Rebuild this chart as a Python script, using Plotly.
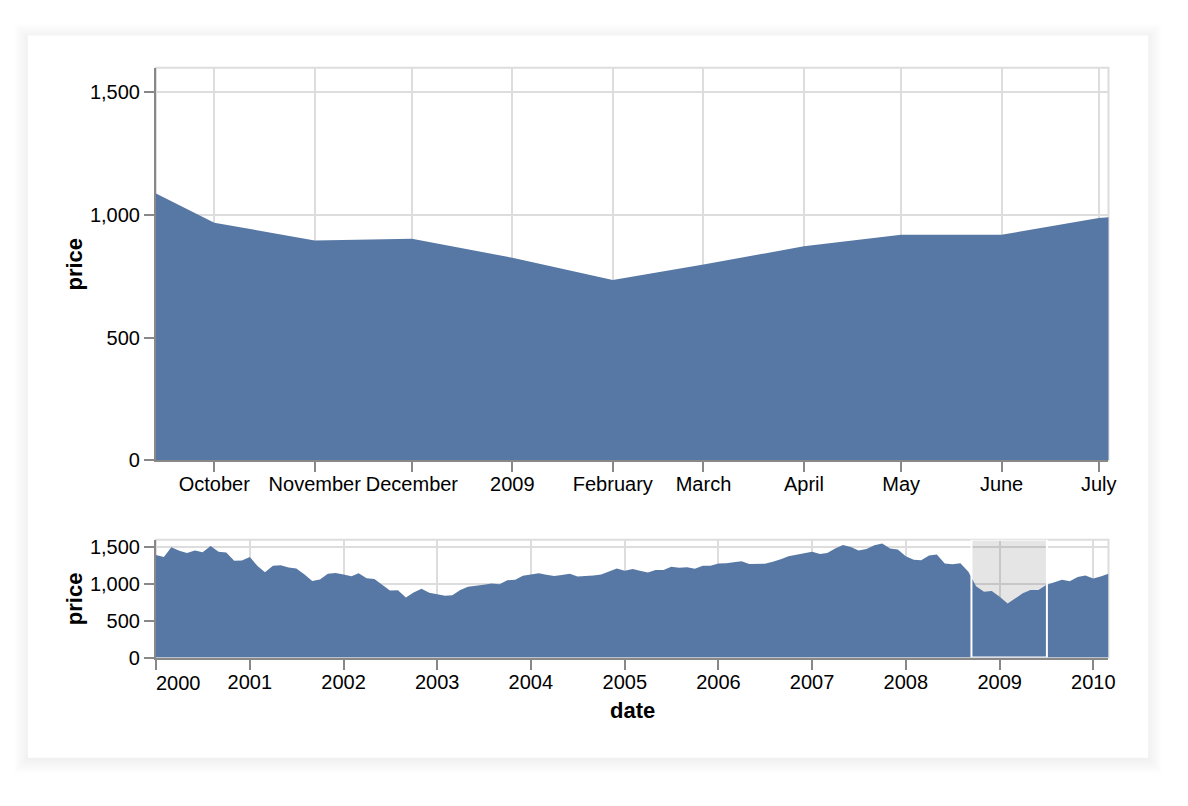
import plotly.graph_objects as go
import pandas as pd

# ---------------- data ----------------
prices = [
    1394.46, 1366.42, 1498.58, 1452.43, 1420.6, 1454.6, 1430.83, 1517.68, 1436.51, 1429.4, 1314.95, 1320.28,
    1366.01, 1239.94, 1160.33, 1249.46, 1255.82, 1224.38, 1211.23, 1133.58, 1040.94, 1059.78, 1139.45, 1148.08,
    1130.2, 1106.73, 1147.39, 1076.92, 1067.14, 989.82, 911.62, 916.07, 815.28, 885.76, 936.31, 879.82,
    855.7, 841.15, 848.18, 916.92, 963.59, 974.5, 990.31, 1008.01, 995.97, 1050.71, 1058.2, 1111.92,
    1131.13, 1144.94, 1126.21, 1107.3, 1120.68, 1140.84, 1101.72, 1104.24, 1114.58, 1130.2, 1173.82, 1211.92,
    1181.27, 1203.6, 1180.59, 1156.85, 1191.5, 1191.33, 1234.18, 1220.33, 1228.81, 1207.01, 1249.48, 1248.29,
    1280.08, 1280.66, 1294.87, 1310.61, 1270.09, 1270.2, 1276.66, 1303.82, 1335.85, 1377.94, 1400.63, 1418.3,
    1438.24, 1406.82, 1420.86, 1482.37, 1530.62, 1503.35, 1455.27, 1473.99, 1526.75, 1549.38, 1481.14, 1468.36,
    1378.55, 1330.63, 1322.7, 1385.59, 1400.38, 1280.0, 1267.38, 1282.83, 1166.36, 968.75, 896.24, 903.25,
    825.88, 735.09, 797.87, 872.81, 919.14, 919.32, 987.48, 1020.62, 1057.08, 1036.19, 1095.63, 1115.1,
    1073.87, 1104.49, 1140.45,
]
dates = pd.date_range("2000-01-01", periods=len(prices), freq="MS")

brush_range = ["2008-09-13", "2009-07-04"]
overview_range = ["2000-01-01", "2010-03-01"]

detail_tick_vals = ["2008-10-01", "2008-11-01", "2008-12-01", "2009-01-01", "2009-02-01",
                    "2009-03-01", "2009-04-01", "2009-05-01", "2009-06-01", "2009-07-01"]
detail_tick_text = ["October", "November", "December", "2009", "February",
                    "March", "April", "May", "June", "July"]

year_tick_vals = [f"{y}-01-01" for y in range(2000, 2011)]
year_tick_text = [str(y) for y in range(2000, 2011)]

y_tick_vals = [0, 500, 1000, 1500]
y_range = [0, 1600]

# ---------------- layout helpers ----------------
W, H = 1188, 806
def fx(p):
    return p / W
def fy(p):
    return 1 - p / H

AREA = "#5778a4"
FONT = "Liberation Sans, Arial, Helvetica, sans-serif"

fig = go.Figure()
fig.add_trace(go.Scatter(x=dates, y=prices, mode="lines", fill="tozeroy",
                         line=dict(width=0, color=AREA), fillcolor=AREA,
                         xaxis="x", yaxis="y", hoverinfo="x+y", showlegend=False))
fig.add_trace(go.Scatter(x=dates, y=prices, mode="lines", fill="tozeroy",
                         line=dict(width=0, color=AREA), fillcolor=AREA,
                         xaxis="x2", yaxis="y2", hoverinfo="x+y", showlegend=False))

common_axis = dict(
    showline=True, linecolor="#888", linewidth=2,
    ticks="outside", ticklen=10, tickwidth=2, tickcolor="#888",
    showgrid=True, gridcolor="#ddd", gridwidth=2, zeroline=False,
    tickfont=dict(family=FONT, size=20, color="#000"),
)
x_extra = dict(tickangle=0, ticklabelstandoff=-5)

fig.update_layout(
    width=W, height=H,
    margin=dict(l=0, r=0, t=0, b=0),
    paper_bgcolor="white", plot_bgcolor="rgba(0,0,0,0)",
    font=dict(family=FONT, color="#000"),
    xaxis=dict(domain=[fx(157), fx(1116)], anchor="y", type="date", range=brush_range,
               tickmode="array", tickvals=detail_tick_vals, ticktext=detail_tick_text,
               **common_axis, **x_extra),
    yaxis=dict(domain=[fy(465), fy(65)], anchor="x", range=y_range,
               tickmode="array", tickvals=y_tick_vals, tickformat=",", **common_axis),
    xaxis2=dict(domain=[fx(157), fx(1116)], anchor="y2", type="date", range=overview_range,
                tickmode="array", tickvals=year_tick_vals,
                ticktext=[""] + year_tick_text[1:], **common_axis, **x_extra),
    yaxis2=dict(domain=[fy(666), fy(546)], anchor="x2", range=y_range,
                tickmode="array", tickvals=y_tick_vals, tickformat=",", **common_axis),
)

shapes = []
# card shadow
for i in range(14, 0, -1):
    shapes.append(dict(type="rect", xref="paper", yref="paper", layer="below",
                       x0=fx(28 - i), x1=fx(1156 + i), y0=fy(768 + i + 2), y1=fy(32 - i + 2),
                       fillcolor="rgba(0,0,0,0.005)", line=dict(width=0)))
# card
shapes.append(dict(type="rect", xref="paper", yref="paper", layer="below",
                   x0=fx(28), x1=fx(1156), y0=fy(768), y1=fy(32),
                   fillcolor="white", line=dict(width=0)))
# view strokes
for top, bot in [(65, 465), (546, 666)]:
    shapes.append(dict(type="rect", xref="paper", yref="paper", layer="below",
                       x0=fx(157), x1=fx(1116), y0=fy(bot), y1=fy(top),
                       fillcolor="rgba(0,0,0,0)", line=dict(width=2, color="#ddd")))
# brush background
shapes.append(dict(type="rect", xref="x2", yref="y2", layer="between",
                   x0=brush_range[0], x1=brush_range[1], y0=y_range[0], y1=y_range[1],
                   fillcolor="rgba(51,51,51,0.125)", line=dict(width=0)))
# brush outline
shapes.append(dict(type="rect", xref="x2", yref="y2", layer="above",
                   x0=brush_range[0], x1=brush_range[1], y0=y_range[0], y1=y_range[1],
                   fillcolor="rgba(0,0,0,0)", line=dict(width=2, color="white")))
fig.update_layout(shapes=shapes)

annotations = [
    dict(text="<b>price</b>", xref="paper", yref="paper", x=fx(75), y=fy(265),
         textangle=-90, showarrow=False, font=dict(family=FONT, size=22, color="#000"),
         xanchor="center", yanchor="middle"),
    dict(text="<b>price</b>", xref="paper", yref="paper", x=fx(75), y=fy(606),
         textangle=-90, showarrow=False, font=dict(family=FONT, size=22, color="#000"),
         xanchor="center", yanchor="middle"),
    dict(text="<b>date</b>", xref="paper", yref="paper", x=fx(637), y=fy(720),
         showarrow=False, font=dict(family=FONT, size=22, color="#000"),
         xanchor="center", yanchor="middle"),
    # first overview label, flushed left at the start of the axis
    dict(text=year_tick_text[0], xref="x2", yref="paper", x=year_tick_vals[0], y=fy(692),
         showarrow=False, font=dict(family=FONT, size=20, color="#000"),
         xanchor="left", yanchor="middle", xshift=-2),
]
fig.update_layout(annotations=annotations)

fig.write_html(
    "out.html",
    config={"displayModeBar": False},
    post_script="document.body.style.margin='0';",
)
